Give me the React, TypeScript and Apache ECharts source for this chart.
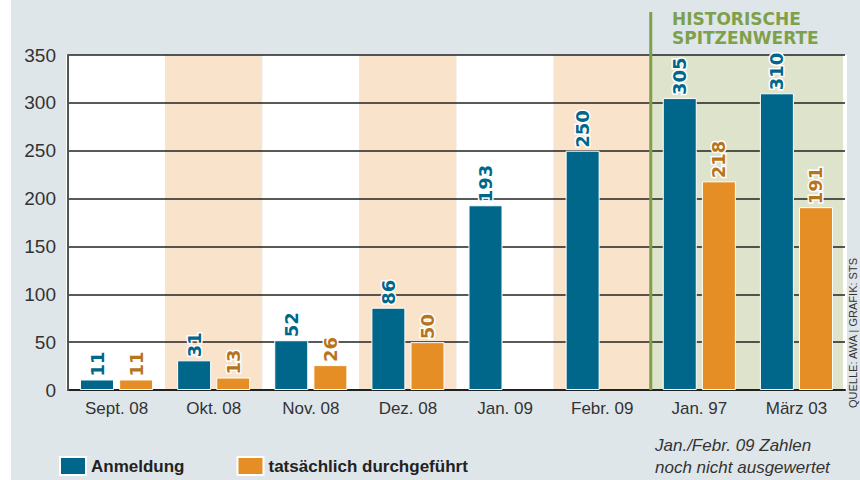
import React, { useEffect, useRef } from "react";
import * as echarts from "echarts";

const categories = ["Sept. 08", "Okt. 08", "Nov. 08", "Dez. 08", "Jan. 09", "Febr. 09", "Jan. 97", "März 03"];
const anmeldung = [11, 31, 52, 86, 193, 250, 305, 310];
const durchgefuehrt: (number | null)[] = [11, 13, 26, 50, null, null, 218, 191];
const yTicks = { min: 0, max: 350, interval: 50 };
const seriesNames = ["Anmeldung", "tatsächlich durchgeführt"];
const headerText = "HISTORISCHE\nSPITZENWERTE";
const noteText = "Jan./Febr. 09 Zahlen\nnoch nicht ausgewertet";
const sourceText = "QUELLE: AWA | GRAFIK: STS";

const TEAL = "#00668a";
const ORANGE = "#e58e26";
const BG = "#dfe6ea";
const BAND_COLORS = ["#ffffff", "#f9e3ca", "#ffffff", "#f9e3ca", "#ffffff", "#f9e3ca", "#dee3cb", "#dee3cb"];

const GRID_LEFT = 68;
const GRID_RIGHT = 15;
const GRID_TOP = 55;
const GRID_BOTTOM = 90;
const W = 860;
const H = 480;

export default function App() {
  const ref = useRef<HTMLDivElement>(null);
  useEffect(() => {
    if (!ref.current) return;
    const chart = echarts.init(ref.current, undefined, { renderer: "svg", width: W, height: H });
    const plotW = W - GRID_LEFT - GRID_RIGHT;
    const band = plotW / categories.length;
    const greenX = GRID_LEFT + band * 6;
    const labelBase = {
      show: true,
      position: "top" as const,
      rotate: 90,
      align: "left" as const,
      verticalAlign: "middle" as const,
      distance: 3,
      fontFamily: "DejaVu Sans",
      fontWeight: "bold" as const,
      fontSize: 18,
      textBorderColor: "#ffffff",
      textBorderWidth: 3,
    };
    chart.setOption({
      animation: false,
      backgroundColor: "#ffffff",
      textStyle: { fontFamily: "Liberation Sans, Arial, sans-serif" },
      grid: { left: GRID_LEFT, right: GRID_RIGHT, top: GRID_TOP, bottom: GRID_BOTTOM, containLabel: false },
      legend: {
        left: 54,
        top: 451,
        itemWidth: 26,
        itemHeight: 18,
        itemGap: 52,
        icon: "rect",
        textStyle: { fontSize: 17, fontWeight: "bold", color: "#222", fontFamily: "Liberation Sans, Arial, sans-serif" },
        data: seriesNames,
      },
      xAxis: {
        type: "category",
        data: categories,
        z: 0,
        axisLine: { show: true, lineStyle: { color: "#222", width: 2 } },
        axisTick: { show: false },
        axisLabel: { fontSize: 17, color: "#333", margin: 10 },
        splitArea: { show: true, areaStyle: { color: BAND_COLORS } },
        splitLine: {
          show: true,
          interval: (idx: number) => idx === 7,
          lineStyle: { color: "#ffffff", width: 4 },
        },
      },
      yAxis: {
        type: "value",
        min: yTicks.min,
        max: yTicks.max,
        interval: yTicks.interval,
        z: 1,
        axisLine: { show: true, lineStyle: { color: "#555", width: 2 } },
        axisTick: { show: false },
        axisLabel: { fontSize: 19, color: "#333", margin: 12 },
        splitLine: { show: true, lineStyle: { color: "#222", width: 1.5 } },
      },
      series: [
        {
          name: seriesNames[0],
          type: "bar",
          data: anmeldung,
          barWidth: 34,
          barGap: "15%",
          itemStyle: { color: TEAL, borderColor: "#ffffff", borderWidth: 1 },
          label: { ...labelBase, color: TEAL },
          z: 3,
        },
        {
          name: seriesNames[1],
          type: "bar",
          data: durchgefuehrt,
          barWidth: 34,
          barGap: "15%",
          itemStyle: { color: ORANGE, borderColor: "#ffffff", borderWidth: 1 },
          label: { ...labelBase, color: "#b8741c" },
          z: 3,
        },
      ],
      graphic: [
        {
          type: "rect",
          z: -100,
          silent: true,
          shape: { x: 11, y: 0, width: W - 11, height: H },
          style: { fill: BG },
        },
        {
          type: "line",
          z: 100,
          silent: true,
          shape: { x1: greenX, y1: 12, x2: greenX, y2: H - GRID_BOTTOM },
          style: { stroke: "#7fa04a", lineWidth: 3 },
        },
        {
          type: "text",
          z: 100,
          left: 672,
          top: 9,
          style: {
            text: headerText,
            fill: "#7fa04a",
            font: "bold 17px 'DejaVu Sans'",
            lineHeight: 19,
          },
        },
        {
          type: "text",
          z: 100,
          left: 655,
          top: 434,
          style: {
            text: noteText,
            fill: "#333",
            font: "italic 17px 'Liberation Sans', Arial, sans-serif",
            lineHeight: 22,
          },
        },
        {
          type: "text",
          z: 100,
          x: 853,
          y: 333,
          rotation: Math.PI / 2,
          style: {
            text: sourceText,
            fill: "#333",
            font: "11px 'Liberation Sans', Arial, sans-serif",
            align: "center",
            verticalAlign: "middle",
          },
        },
      ],
    });
    return () => chart.dispose();
  }, []);
  return <div ref={ref} style={{ position: "absolute", left: 0, top: 0, width: W, height: H }} />;
}
